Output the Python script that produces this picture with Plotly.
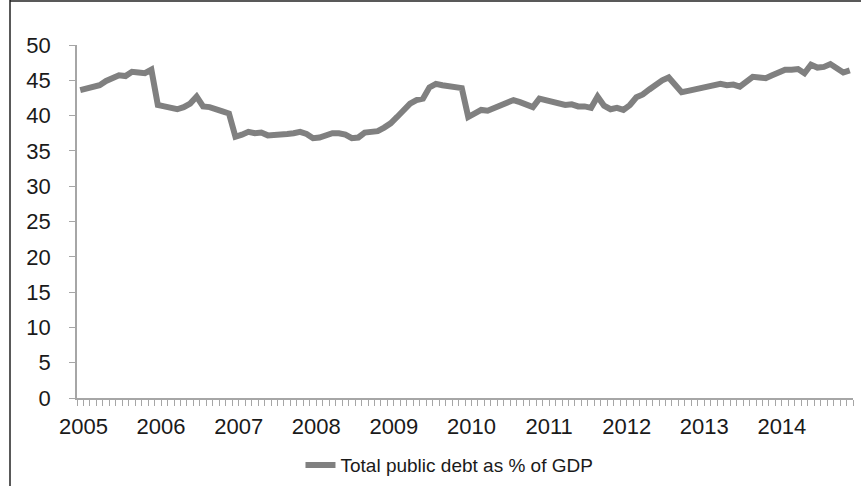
import plotly.graph_objects as go

years = ["2005", "2006", "2007", "2008", "2009", "2010", "2011", "2012", "2013", "2014"]

debt_2005 = [43.6, 43.8, 44.1, 44.3, 44.9, 45.3, 45.7, 45.6, 46.2, 46.1, 46.0, 46.5]
debt_2006 = [41.5, 41.3, 41.1, 40.9, 41.2, 41.7, 42.7, 41.3, 41.2, 41.0, 40.6, 40.3]
debt_2007 = [37.0, 37.3, 37.7, 37.5, 37.6, 37.2, 37.2, 37.3, 37.4, 37.5, 37.7, 37.4]
debt_2008 = [36.8, 36.9, 37.2, 37.5, 37.5, 37.3, 36.8, 36.9, 37.6, 37.6, 37.8, 38.3]
debt_2009 = [38.9, 39.8, 40.7, 41.7, 42.2, 42.4, 44.0, 44.5, 44.3, 44.2, 44.0, 43.9]
debt_2010 = [39.8, 40.4, 40.8, 40.7, 41.1, 41.6, 42.0, 42.2, 41.9, 41.6, 41.2, 42.4]
debt_2011 = [42.2, 41.9, 41.6, 41.5, 41.6, 41.3, 41.3, 41.1, 42.7, 41.4, 40.9, 41.1]
debt_2012 = [40.8, 41.5, 42.6, 43.0, 43.7, 44.4, 45.0, 45.4, 44.4, 43.3, 43.5, 43.7]
debt_2013 = [44.1, 44.2, 44.5, 44.5, 44.3, 44.4, 44.1, 44.8, 45.5, 45.4, 45.3, 45.7]
debt_2014 = [46.0, 46.5, 46.5, 46.6, 46.0, 47.2, 46.8, 46.9, 47.3, 46.6, 46.1, 46.4]

debt = (debt_2005 + debt_2006 + debt_2007 + debt_2008 + debt_2009 +
        debt_2010 + debt_2011 + debt_2012 + debt_2013 + debt_2014)
months = list(range(len(debt)))

series_name = "Total public debt as % of GDP"

fig = go.Figure()
fig.add_trace(go.Scatter(
    x=months, y=debt, mode="lines", name=series_name,
    line=dict(color="#808080", width=6),
    showlegend=True,
))

axis_color = "#a6a6a6"
font_family = "Liberation Sans, Arial, sans-serif"

fig.update_layout(
    width=861, height=486,
    margin=dict(l=77, r=8, t=45, b=88, autoexpand=False),
    paper_bgcolor="white", plot_bgcolor="white",
    font=dict(family=font_family, size=22, color="#1a1a1a"),
    showlegend=True,
    legend=dict(orientation="h", x=0.48, xanchor="center", y=-0.19, yanchor="middle",
                font=dict(size=19, color="#1a1a1a"), bgcolor="rgba(0,0,0,0)"),
    xaxis=dict(
        range=[-0.5, len(debt) - 0.5],
        automargin=False,
        tickmode="array",
        tickvals=[12 * i + 0.5 for i in range(len(years))],
        ticktext=years,
        ticks="",
        showline=True, linecolor=axis_color, linewidth=1.5,
        showgrid=False, zeroline=False,
        minor=dict(ticks="outside", tick0=-0.5, dtick=1,
                   ticklen=6, tickcolor=axis_color, tickwidth=1, showgrid=False),
        tickfont=dict(size=22),
        ticklabelstandoff=8,
    ),
    yaxis=dict(
        range=[0, 50], dtick=5, tick0=0,
        automargin=False,
        ticks="outside", ticklen=6, tickcolor=axis_color, tickwidth=1,
        showline=True, linecolor=axis_color, linewidth=1.5,
        showgrid=False, zeroline=False,
        tickfont=dict(size=22),
        ticklabelstandoff=14,
    ),
    shapes=[
        dict(type="line", xref="paper", yref="paper",
             x0=(10 - 77) / 776, x1=(10 - 77) / 776, y0=(398 - 0) / 353, y1=(398 - 486) / 353,
             line=dict(color="#222222", width=1.5)),
        dict(type="line", xref="paper", yref="paper",
             x0=(10 - 77) / 776, x1=(861 - 77) / 776, y0=(398 - 1) / 353, y1=(398 - 1) / 353,
             line=dict(color="#222222", width=1.5)),
    ],
)

fig.write_html("out.html", config={"displayModeBar": False},
               post_script="document.body.style.margin='0';")
